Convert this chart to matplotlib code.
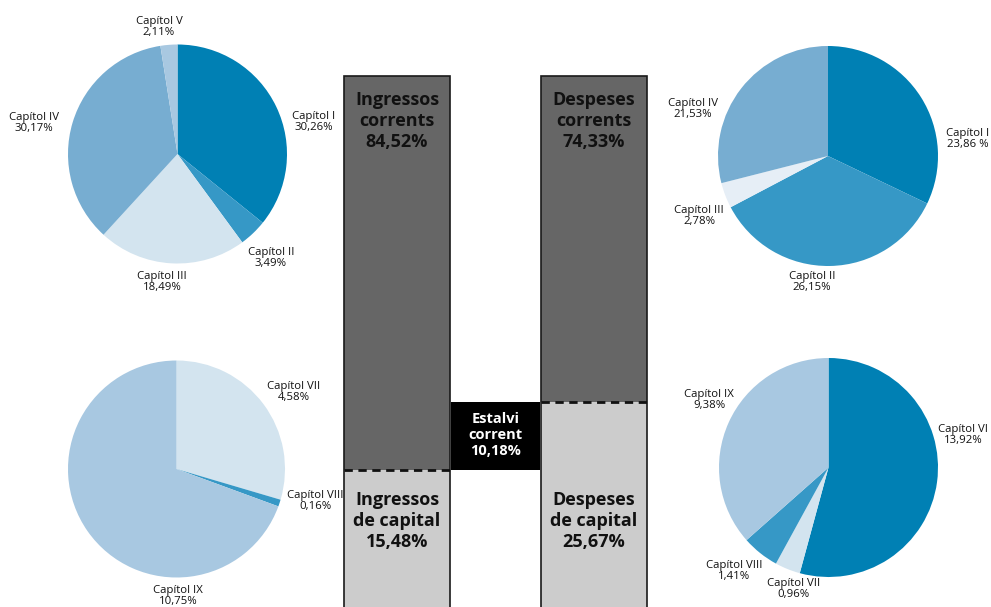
import numpy as np
import matplotlib
matplotlib.use("Agg")
import matplotlib.pyplot as plt
from matplotlib.transforms import blended_transform_factory

plt.rcParams['font.family'] = ['Open Sans', 'DejaVu Sans']

# --- data ---
ing_corr_names = ["Capítol I", "Capítol II", "Capítol III", "Capítol IV", "Capítol V"]
ing_corr_vals = [30.26, 3.49, 18.49, 30.17, 2.11]

desp_corr_names = ["Capítol I", "Capítol II", "Capítol III", "Capítol IV"]
desp_corr_vals = [23.86, 26.15, 2.78, 21.53]

ing_cap_names = ["Capítol VII", "Capítol VIII", "Capítol IX"]
ing_cap_vals = [4.58, 0.16, 10.75]

desp_cap_names = ["Capítol VI", "Capítol VII", "Capítol VIII", "Capítol IX"]
desp_cap_vals = [13.92, 0.96, 1.41, 9.38]

bar_titles_corr = ["Ingressos\ncorrents", "Despeses\ncorrents"]
bar_titles_cap = ["Ingressos\nde capital", "Despeses\nde capital"]
corrent = [84.52, 74.33]
capital = [15.48, 25.67]
estalvi = 10.18

# colours
BLUE = "#0080B4"
MID = "#3698C6"
LMID = "#77ADD1"
LIGHT = "#A8C8E1"
PALE = "#D3E4EF"
PALE2 = "#E6EEF6"

W, H = 991, 607
fig = plt.figure(figsize=(W / 100, H / 100), dpi=100)


def fmt(v):
    return f"{v:.2f}".replace(".", ",")


def px(x, y):
    return x / W, 1 - y / H


def draw_pie(cx, cy, r, vals, cols, labels, label_pos):
    ax = fig.add_axes([(cx - r) / W, 1 - (cy + r) / H, 2 * r / W, 2 * r / H])
    ax.pie(vals, colors=cols, startangle=90, counterclock=False,
           wedgeprops=dict(linewidth=0))
    ax.set_xlim(-1, 1)
    ax.set_ylim(-1, 1)
    for lab, (lx, ly) in zip(labels, label_pos):
        fig.text(*px(lx, ly), lab, ha="center", va="center", fontsize=8.2,
                 linespacing=0.98, color="#111111")


lab = [f"{n}\n{fmt(v)}%" for n, v in zip(ing_corr_names, ing_corr_vals)]
draw_pie(177.5, 154, 109.5, ing_corr_vals, [BLUE, MID, PALE, LMID, LIGHT], lab,
         [(314, 122), (271, 258), (162, 282), (34, 123), (159, 27)])

lab = [f"{n}\n{fmt(v)}%" for n, v in zip(desp_corr_names, desp_corr_vals)]
lab[0] = lab[0].replace("%", " %")
draw_pie(828, 156, 110, desp_corr_vals, [BLUE, MID, PALE2, LMID], lab,
         [(968, 139), (812, 282), (699, 216), (693, 109)])

lab = [f"{n}\n{fmt(v)}%" for n, v in zip(ing_cap_names, ing_cap_vals)]
draw_pie(176.5, 469, 108.5, ing_cap_vals, [PALE, MID, LIGHT], lab,
         [(294, 392), (315, 501), (178, 596)])

lab = [f"{n}\n{fmt(v)}%" for n, v in zip(desp_cap_names, desp_cap_vals)]
draw_pie(828.5, 467.5, 109.5, desp_cap_vals, [BLUE, PALE, MID, LIGHT], lab,
         [(963, 435), (794, 589), (734, 571), (709, 400)])

# --- central bars (schematic, piecewise scale) ---
ax = fig.add_axes([335 / W, 0, 321 / W, 1])
ax.axis("off")
ax.set_xlim(-0.63, 2.63)

total = np.add(capital, corrent)
yk = [-20, 0, capital[0], capital[1], total.max(), 140]
pk = [-25, -5, 137, 205, 531, 611]
ax.set_yscale("function", functions=(lambda y: np.interp(y, yk, pk),
                                     lambda p: np.interp(p, pk, yk)))
ax.set_ylim(np.interp(0, pk, yk), np.interp(H, pk, yk))

xs = np.array([0, 2])
bw = 1.08
ax.bar(xs, capital, width=bw, color="#cccccc", edgecolor="none")
ax.bar(xs, corrent, bottom=capital, width=bw, color="#666666", edgecolor="none")
ax.bar(xs, total, width=bw, fill=False, edgecolor="#1a1a1a", linewidth=1.2)
ax.hlines(capital, xs - bw / 2, xs + bw / 2, colors="#111111",
          linestyles=(0, (3, 2)), linewidth=2)
ax.bar(1, estalvi, bottom=capital[0], width=0.9, color="black")

tr = blended_transform_factory(ax.transData, fig.transFigure)
for x, t, v in zip(xs, bar_titles_corr, corrent):
    ax.text(x, 1 - 121 / H, f"{t}\n{fmt(v)}%", transform=tr, ha="center",
            va="center", fontsize=13, fontweight="bold", color="#111111",
            linespacing=1.22)
for x, t, v in zip(xs, bar_titles_cap, capital):
    ax.text(x, 1 - 521 / H, f"{t}\n{fmt(v)}%", transform=tr, ha="center",
            va="center", fontsize=13, fontweight="bold", color="#111111",
            linespacing=1.22)
ax.text(1, 1 - 435 / H, f"Estalvi\ncorrent\n{fmt(estalvi)}%", transform=tr,
        ha="center", va="center", fontsize=10.5, fontweight="bold",
        color="white", linespacing=1.2)

fig.savefig("out.png", dpi=100)
